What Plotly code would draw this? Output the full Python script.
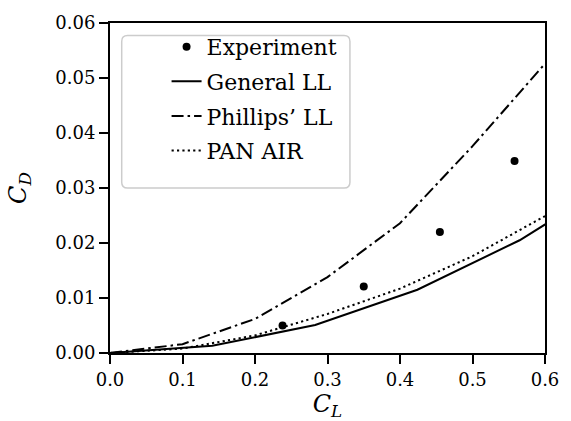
import plotly.graph_objects as go

# Measured drag polar (wind tunnel)
exp_cl = [0.238, 0.350, 0.455, 0.558]
exp_cd = [0.0050, 0.0121, 0.0220, 0.0349]

# General lifting-line solution
gen_cl = [0.0, 0.141, 0.283, 0.424, 0.565, 0.706]
gen_cd = [0.0, 0.0013, 0.0051, 0.0115, 0.0205, 0.0320]

# Phillips' lifting-line solution
phil_cl = [0.0, 0.1, 0.2, 0.3, 0.4, 0.5, 0.6]
phil_cd = [0.0, 0.0016, 0.0062, 0.0138, 0.0236, 0.0376, 0.0526]

# PAN AIR panel-code solution
pan_cl = [0.0, 0.1, 0.2, 0.3, 0.4, 0.5, 0.6]
pan_cd = [0.0, 0.0008, 0.0032, 0.0071, 0.0117, 0.0176, 0.0249]

x_ticks = [0.0, 0.1, 0.2, 0.3, 0.4, 0.5, 0.6]
y_ticks = [0.00, 0.01, 0.02, 0.03, 0.04, 0.05, 0.06]

FONT = "DejaVu Serif"

# plot-area geometry in pixels
L, R, T, B = 110, 556, 13, 353
W, H = 571, 421

fig = go.Figure()
fig.add_trace(go.Scatter(x=exp_cl, y=exp_cd, mode="markers", name="Experiment",
                         legendgroup="exp",
                         marker=dict(color="black", size=8)))
fig.add_trace(go.Scatter(x=gen_cl, y=gen_cd, mode="lines", name="General LL",
                         legendgroup="gen",
                         line=dict(color="black", width=2)))
fig.add_trace(go.Scatter(x=phil_cl, y=phil_cd, mode="lines", name="Phillips\u2019 LL",
                         legendgroup="phil",
                         line=dict(color="black", width=2, dash="12px,4px,2.5px,4px")))
fig.add_trace(go.Scatter(x=pan_cl, y=pan_cd, mode="lines", name="PAN AIR",
                         legendgroup="pan",
                         line=dict(color="black", width=2, dash="2.2px,3.2px")))

axis_common = dict(
    showline=True, linecolor="black", linewidth=2, mirror=True,
    ticks="outside", ticklen=9, tickwidth=1.8, tickcolor="black",
    showgrid=False, zeroline=False,
    tickfont=dict(family=FONT, size=18, color="black"),
)

fig.update_xaxes(range=[0, 0.6], tickvals=x_ticks,
                 ticktext=[f"{v:.1f}" for v in x_ticks],
                 title=dict(text="<i>C</i><sub><i>L</i></sub>",
                            font=dict(family=FONT, size=24, color="black"),
                            standoff=0),
                 **axis_common)
fig.update_yaxes(range=[0, 0.06], tickvals=y_ticks,
                 ticktext=[f"{v:.2f}" for v in y_ticks],
                 title=dict(text="<i>C</i><sub><i>D</i></sub>",
                            font=dict(family=FONT, size=24, color="black"),
                            standoff=22),
                 **axis_common)


def px(xp):
    return (xp - L) / (R - L)


def py(yp):
    return (B - yp) / (B - T)


# rounded legend frame, in paper coordinates
x0, x1, y0, y1, r = 122, 356, 26, 183, 6
pts = [
    ("M", x0 + r, y0), ("L", x1 - r, y0), ("Q", x1, y0, x1, y0 + r),
    ("L", x1, y1 - r), ("Q", x1, y1, x1 - r, y1), ("L", x0 + r, y1),
    ("Q", x0, y1, x0, y1 - r), ("L", x0, y0 + r), ("Q", x0, y0, x0 + r, y0),
]
path = ""
for p in pts:
    cmd, coords = p[0], p[1:]
    parts = [f"{px(coords[i]):.5f},{py(coords[i + 1]):.5f}" for i in range(0, len(coords), 2)]
    path += f"{cmd} {' '.join(parts)} "
path += "Z"
fig.add_shape(type="path", path=path, xref="paper", yref="paper",
              line=dict(color="#cccccc", width=1.5), fillcolor="rgba(255,255,255,0.8)",
              layer="above")

fig.update_layout(
    width=W, height=H,
    margin=dict(l=L, r=W - R, t=T, b=H - B),
    paper_bgcolor="white", plot_bgcolor="white",
    font=dict(family=FONT, color="black"),
    showlegend=True,
    legend=dict(x=px(168), y=py(16), xanchor="left", yanchor="top",
                bgcolor="rgba(255,255,255,0)", borderwidth=0,
                font=dict(family=FONT, size=22, color="black"),
                tracegroupgap=3, itemwidth=30),
)

fig.write_html("out.html")
